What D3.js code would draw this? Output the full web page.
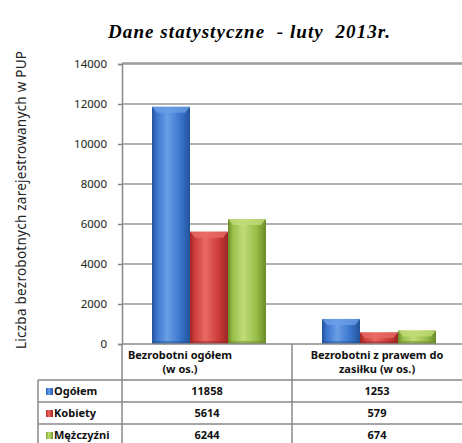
<!DOCTYPE html>
<html>
<head>
<meta charset="UTF-8">
<title>Dane statystyczne - luty 2013r.</title>
<script src="https://cdnjs.cloudflare.com/ajax/libs/d3/7.8.5/d3.min.js"></script>
<style>
  body { margin: 0; background: #fff; }
  svg { display: block; font-family: "Noto Sans", "DejaVu Sans", sans-serif; }
</style>
</head>
<body>
<div id="chart"></div>
<script>
// Data
var categories = ['Bezrobotni ogółem (w os.)', 'Bezrobotni z prawem do zasiłku (w os.)'];
var categoryLines = [['Bezrobotni ogółem', '(w os.)'], ['Bezrobotni z prawem do', 'zasiłku (w os.)']];
var seriesNames = ['Ogółem', 'Kobiety', 'Mężczyźni'];
var ogolem = [11858, 1253];
var kobiety = [5614, 579];
var mezczyzni = [6244, 674];
var yTicks = [0, 2000, 4000, 6000, 8000, 10000, 12000, 14000];

var seriesValues = [ogolem, kobiety, mezczyzni];

var width = 462, height = 443;
var plot = { left: 122, right: 462, top: 64, bottom: 344 };
var legendLeft = 38, rowH = 22;

// colours: [dark edge, main, highlight]
var colors = [
  ['#23539a', '#3a74cc', '#6a9ee6'],
  ['#9c2624', '#cc3c3a', '#ea6a66'],
  ['#6a8a28', '#98be48', '#c0dc78']
];

var svg = d3.select('#chart').append('svg')
  .attr('width', width)
  .attr('height', height);

var defs = svg.append('defs');
colors.forEach(function(c, i) {
  var g = defs.append('linearGradient').attr('id', 'grad' + i)
    .attr('x1', 0).attr('x2', 1).attr('y1', 0).attr('y2', 0);
  g.append('stop').attr('offset', '0%').attr('stop-color', c[0]);
  g.append('stop').attr('offset', '12%').attr('stop-color', c[1]);
  g.append('stop').attr('offset', '40%').attr('stop-color', c[2]);
  g.append('stop').attr('offset', '75%').attr('stop-color', c[1]);
  g.append('stop').attr('offset', '100%').attr('stop-color', c[0]);
});

var y = d3.scaleLinear().domain([0, 14000]).range([plot.bottom, plot.top]);
var x0 = d3.scaleBand().domain(categories).range([plot.left, plot.right]);
var x1 = d3.scaleBand().domain(seriesNames).range([30, 144]);

// title
svg.append('text')
  .attr('x', 249).attr('y', 38)
  .attr('text-anchor', 'middle')
  .attr('textLength', 282)
  .attr('lengthAdjust', 'spacing')
  .style('white-space', 'pre')
  .style('font-family', '"Liberation Serif", "Times New Roman", serif')
  .style('font-weight', 'bold')
  .style('font-style', 'italic')
  .style('font-size', '19px')
  .text('Dane statystyczne  - luty  2013r.');

// y axis title
svg.append('text')
  .attr('transform', 'translate(26,' + ((50 + 350) / 2) + ') rotate(-90)')
  .attr('text-anchor', 'middle')
  .attr('textLength', 298)
  .attr('lengthAdjust', 'spacing')
  .style('font-size', '13.5px')
  .style('fill', '#222')
  .text('Liczba bezrobotnych zarejestrowanych w PUP');

// gridlines
svg.append('g')
  .selectAll('line')
  .data(yTicks.filter(function(d) { return d > 0; }))
  .join('line')
  .attr('x1', plot.left).attr('x2', plot.right)
  .attr('y1', function(d) { return y(d); })
  .attr('y2', function(d) { return y(d); })
  .attr('stroke', '#999').attr('stroke-width', 1.5);

// y axis
var yAxis = svg.append('g')
  .attr('transform', 'translate(' + plot.left + ',0)')
  .call(d3.axisLeft(y).tickValues(yTicks).tickSize(4).tickPadding(11).tickFormat(d3.format('d')));
yAxis.select('.domain').attr('stroke', '#888').attr('stroke-width', 1.5);
yAxis.selectAll('.tick line').attr('stroke', '#888').attr('stroke-width', 1.5);
yAxis.selectAll('.tick text')
  .style('font-size', '11.5px')
  .style('font-family', '"Noto Sans", sans-serif')
  .attr('fill', '#222');

// bars
var groups = svg.append('g').selectAll('g')
  .data(categories)
  .join('g')
  .attr('transform', function(d) { return 'translate(' + x0(d) + ',0)'; });

groups.each(function(cat, ci) {
  var g = d3.select(this);
  seriesNames.forEach(function(s, si) {
    var v = seriesValues[si][ci];
    var bx = x1(s), bw = x1.bandwidth();
    var top = y(v), h = y(0) - y(v);
    g.append('rect')
      .attr('x', bx).attr('y', top)
      .attr('width', bw).attr('height', h)
      .attr('fill', 'url(#grad' + si + ')');
    // bevelled top
    var cap = Math.min(6, h / 2);
    g.append('path')
      .attr('d', 'M' + bx + ',' + top + 'L' + (bx + bw) + ',' + top +
        'L' + (bx + bw - 5) + ',' + (top + cap) + 'L' + (bx + 5) + ',' + (top + cap) + 'Z')
      .attr('fill', colors[si][2]).attr('opacity', 0.8);
    // bottom shade
    g.append('rect')
      .attr('x', bx).attr('y', y(0) - 3)
      .attr('width', bw).attr('height', 3)
      .attr('fill', colors[si][0]).attr('opacity', 0.5);
  });
});

// plot frame top line
svg.append('line')
  .attr('x1', plot.left).attr('x2', plot.right)
  .attr('y1', plot.top - 1).attr('y2', plot.top - 1)
  .attr('stroke', '#999').attr('stroke-width', 1.5);

// data table
var table = svg.append('g').attr('stroke', '#888').attr('stroke-width', 1.5);
table.append('line')
  .attr('x1', plot.left).attr('x2', plot.right)
  .attr('y1', plot.bottom).attr('y2', plot.bottom);
var rowTop = plot.bottom + 36;
[0, 1, 2].forEach(function(i) {
  table.append('line')
    .attr('x1', legendLeft).attr('x2', plot.right)
    .attr('y1', rowTop + i * rowH).attr('y2', rowTop + i * rowH);
});
table.append('line')
  .attr('x1', legendLeft).attr('x2', legendLeft)
  .attr('y1', rowTop).attr('y2', height);
categories.forEach(function(c) {
  table.append('line')
    .attr('x1', x0(c)).attr('x2', x0(c))
    .attr('y1', plot.bottom).attr('y2', height);
});

var labelShift = [-27, 0];
var tf = svg.append('g')
  .style('font-size', '11px')
  .style('font-weight', 'bold')
  .attr('fill', '#111');

categories.forEach(function(c, ci) {
  var cx = x0(c) + x0.bandwidth() / 2 + labelShift[ci];
  categoryLines[ci].forEach(function(line, li) {
    tf.append('text')
      .attr('x', cx).attr('y', plot.bottom + 15 + li * 14)
      .attr('text-anchor', 'middle')
      .text(line);
  });
  seriesNames.forEach(function(s, si) {
    tf.append('text')
      .attr('x', x0(c) + x0.bandwidth() / 2)
      .attr('y', rowTop + si * rowH + 15)
      .attr('text-anchor', 'middle')
      .text(seriesValues[si][ci]);
  });
});

seriesNames.forEach(function(s, si) {
  svg.append('rect')
    .attr('x', legendLeft + 8).attr('y', rowTop + si * rowH + 8)
    .attr('width', 7).attr('height', 7)
    .attr('fill', 'url(#grad' + si + ')');
  tf.append('text')
    .attr('x', legendLeft + 16).attr('y', rowTop + si * rowH + 15)
    .text(s);
});
</script>
</body>
</html>
